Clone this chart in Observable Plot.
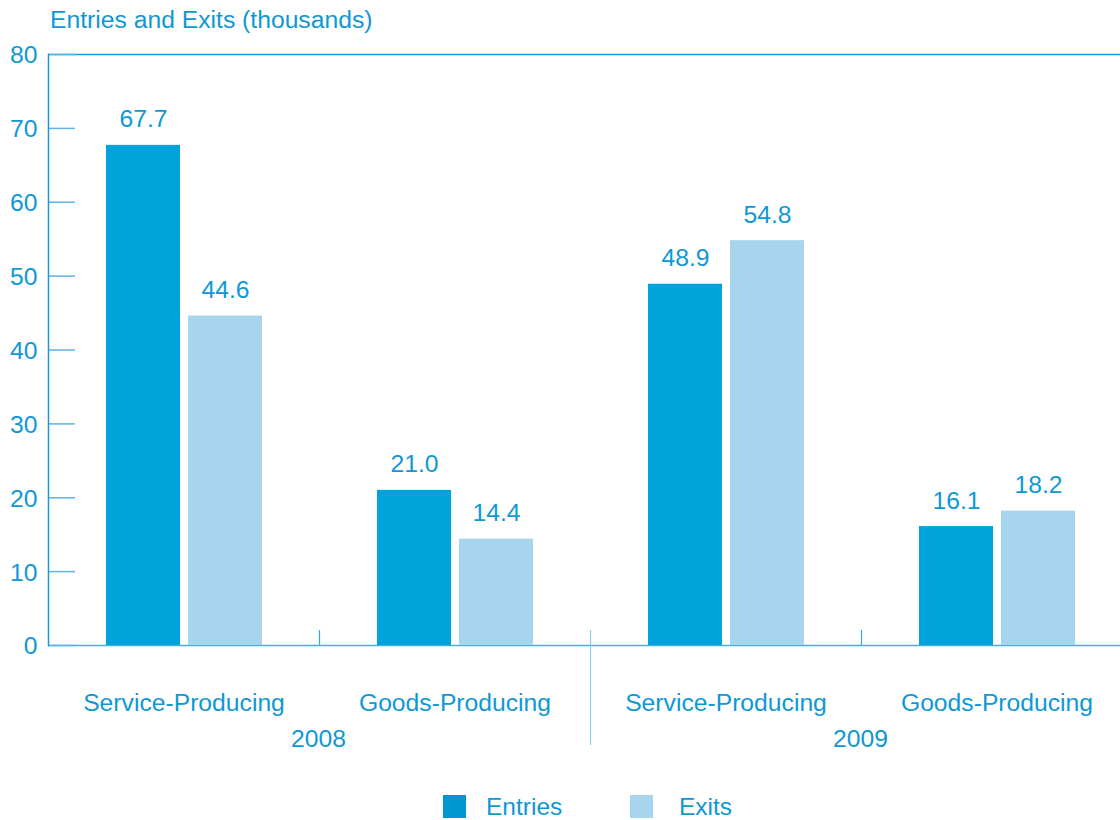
<!DOCTYPE html>
<html><head><meta charset="utf-8">
<script src="https://cdn.jsdelivr.net/npm/d3@7"></script>
<script src="https://cdn.jsdelivr.net/npm/@observablehq/plot@0.6"></script>
<style>
body{margin:0;background:#fff;font-family:"Liberation Sans",Arial,sans-serif;color:#0e98d4}
#title{height:40px;line-height:40px;font-size:24.7px;padding-left:50px;white-space:nowrap}
#chart{height:750px}
#legend{height:30px;position:relative;width:1120px}
#legend .sw{position:absolute;top:5px;width:23px;height:23px}
#legend .lb{position:absolute;top:0;height:30px;line-height:34px;font-size:24.5px;white-space:nowrap}
</style></head><body>
<div id="title">Entries and Exits (thousands)</div>
<div id="chart"></div>
<div id="legend"></div>
<script>
const years = ["2008", "2009"];
const sectors = ["Service-Producing", "Goods-Producing"];
const seriesNames = ["Entries", "Exits"];
const entries = [67.7, 21.0, 48.9, 16.1];
const exits = [44.6, 14.4, 54.8, 18.2];
const yTicks = [0, 10, 20, 30, 40, 50, 60, 70, 80];
const colors = ["#00a3da", "#a7d5ee"];
const legendColors = ["#0096d0", "#a7d5ee"];

const groups = years.flatMap(y => sectors.map(s => ({year: y, sector: s, key: y + " " + s})));
const rows = groups.flatMap((g, i) => [
  {...g, series: seriesNames[0], value: entries[i]},
  {...g, series: seriesNames[1], value: exits[i]}
]);
const sectorOf = new Map(groups.map(g => [g.key, g.sector]));

// geometry (styles)
const band = 271, padL = 58, barW = 74, gap = 8;
const half = band / 2;
const eIL = padL, eIR = band - padL - barW;
const xIL = padL + barW + gap, xIR = band - xIL - barW;
const eDx = (eIL + band - eIR) / 2 - half;
const xDx = (xIL + band - xIR) / 2 - half;

const textColor = "#0e98d4";
const fs = 24.7;
const chart = Plot.plot({
  width: 1120,
  height: 750,
  marginLeft: 48,
  marginRight: 0,
  marginTop: 14,
  marginBottom: 145,
  style: {fontFamily: '"Liberation Sans", Arial, sans-serif', color: textColor, background: "#fff"},
  x: {domain: groups.map(g => g.key), range: [48, 48 + band * 4], padding: 0, label: null},
  y: {domain: [0, 80], label: null},
  marks: [
    Plot.ruleY([0], {stroke: "#4aaee0", strokeWidth: 1.5}),
    Plot.ruleY([80], {stroke: "#1e96d7", strokeWidth: 1.5}),
    Plot.ruleY(yTicks, {stroke: "#5ab6e6", strokeWidth: 1.5, insetRight: 1120 - 48 - 27}),
    Plot.frame({anchor: "left", stroke: "#1e96d7", strokeWidth: 1.5}),
    Plot.ruleX(groups.filter(g => g.sector === sectors[1]), {x: "key", dx: -half, insetTop: 576, stroke: "#3aa4dc", strokeWidth: 1.2}),
    Plot.ruleX(groups.filter(g => g.year === years[1] && g.sector === sectors[0]), {x: "key", dx: -half, insetTop: 576, insetBottom: -100, stroke: "#8ccbec", strokeWidth: 1.2}),
    Plot.barY(rows.filter(d => d.series === seriesNames[0]), {x: "key", y: "value", fill: colors[0], insetLeft: eIL, insetRight: eIR}),
    Plot.barY(rows.filter(d => d.series === seriesNames[1]), {x: "key", y: "value", fill: colors[1], insetLeft: xIL, insetRight: xIR}),
    Plot.text(rows.filter(d => d.series === seriesNames[0]), {x: "key", y: "value", text: d => d.value.toFixed(1), dx: eDx, dy: -18, lineAnchor: "bottom", fontSize: fs, fill: textColor}),
    Plot.text(rows.filter(d => d.series === seriesNames[1]), {x: "key", y: "value", text: d => d.value.toFixed(1), dx: xDx, dy: -18, lineAnchor: "bottom", fontSize: fs, fill: textColor}),
    Plot.axisY({ticks: yTicks, tickSize: 0, tickPadding: 11, fontSize: fs, dy: 1, label: null}),
    Plot.axisX({tickSize: 0, tickPadding: 48, fontSize: fs, tickFormat: k => sectorOf.get(k), label: null}),
    Plot.text(groups.filter(g => g.sector === sectors[1]), {x: "key", text: "year", dx: -half - 1, frameAnchor: "bottom", lineAnchor: "top", dy: 84, fontSize: fs, fill: textColor})
  ]
});
document.getElementById("chart").appendChild(chart);

const legend = document.getElementById("legend");
const pos = [[443, 486], [630, 679]];
seriesNames.forEach((s, i) => {
  const sw = document.createElement("div");
  sw.className = "sw"; sw.style.left = pos[i][0] + "px"; sw.style.background = legendColors[i];
  const lb = document.createElement("div");
  lb.className = "lb"; lb.style.left = pos[i][1] + "px"; lb.textContent = s;
  legend.appendChild(sw); legend.appendChild(lb);
});
</script>
</body></html>
